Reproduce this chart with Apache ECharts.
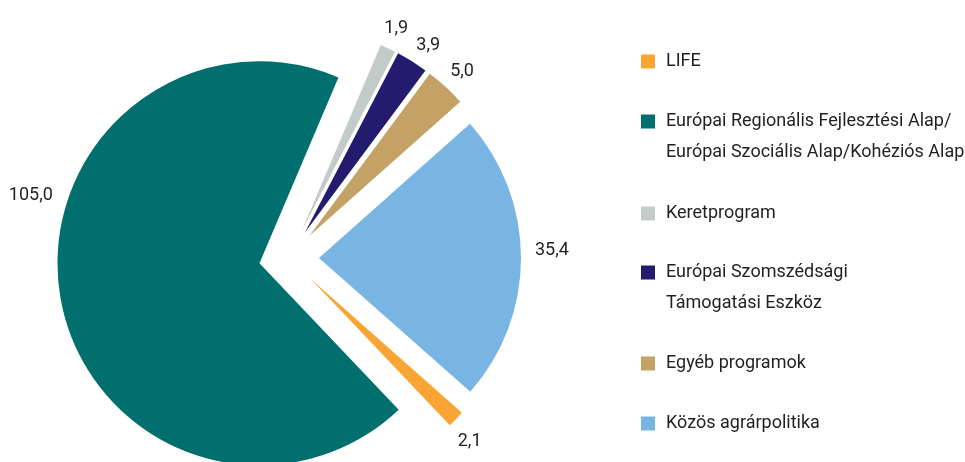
<!DOCTYPE html>
<html>
<head>
<meta charset="utf-8">
<script src="https://cdn.jsdelivr.net/npm/echarts@6/dist/echarts.min.js"></script>
<style>
html,body{margin:0;padding:0;background:#fff;}
#chart{width:965px;height:462px;}
</style>
</head>
<body>
<div id="chart"></div>
<script>
const categories = [
  'LIFE',
  'Európai Regionális Fejlesztési Alap/\nEurópai Szociális Alap/Kohéziós Alap',
  'Keretprogram',
  'Európai Szomszédsági\nTámogatási Eszköz',
  'Egyéb programok',
  'Közös agrárpolitika'
];
const values = [2.1, 105.0, 1.9, 3.9, 5.0, 35.4];
const colors = ['#F9A533', '#006F6E', '#C3CBC9', '#231C6E', '#C4A265', '#79B5E2'];

const FONT = 'Roboto, sans-serif';
const FSIZE = 18;
const TXT = '#231F20';

const legendTops = [[46], [106, 137], [198], [257, 288], [348], [408]];
const legends = [];
categories.forEach((name, i) => {
  const lines = name.split('\n');
  lines.forEach((line, k) => {
    legends.push({
      orient: 'vertical',
      left: 641,
      top: legendTops[i][k],
      padding: 0,
      itemWidth: 14,
      itemHeight: 14,
      icon: 'rect',
      selectedMode: false,
      data: [name],
      itemStyle: k === 0 ? {} : { opacity: 0 },
      formatter: () => line,
      textStyle: {
        fontFamily: FONT,
        fontSize: FSIZE,
        color: TXT,
        lineHeight: 31,
        padding: [0, 0, 0, 6]
      }
    });
  });
});

const labelNudge = [[-13, 17], [9, -105], [-16, -12], [-9, -9], [-10, -10], [-3, -7]];

const chart = echarts.init(document.getElementById('chart'));
chart.setOption({
  animation: false,
  color: colors,
  legend: legends,
  series: [{
    type: 'pie',
    center: [289, 258],
    radius: [0, 202],
    startAngle: -41.5,
    clockwise: true,
    selectedMode: 'multiple',
    selectedOffset: 30,
    avoidLabelOverlap: false,
    emphasis: { disabled: true },
    label: {
      show: true,
      position: 'outside',
      fontFamily: FONT,
      fontSize: FSIZE,
      color: TXT,
      formatter: p => p.value.toFixed(1).replace('.', ',')
    },
    labelLine: { show: false, length: 8, length2: 4 },
    labelLayout: p => ({ dx: labelNudge[p.dataIndex][0], dy: labelNudge[p.dataIndex][1], hideOverlap: false }),
    data: categories.map((name, i) => ({ name: name, value: values[i], selected: true }))
  }]
});
</script>
</body>
</html>
